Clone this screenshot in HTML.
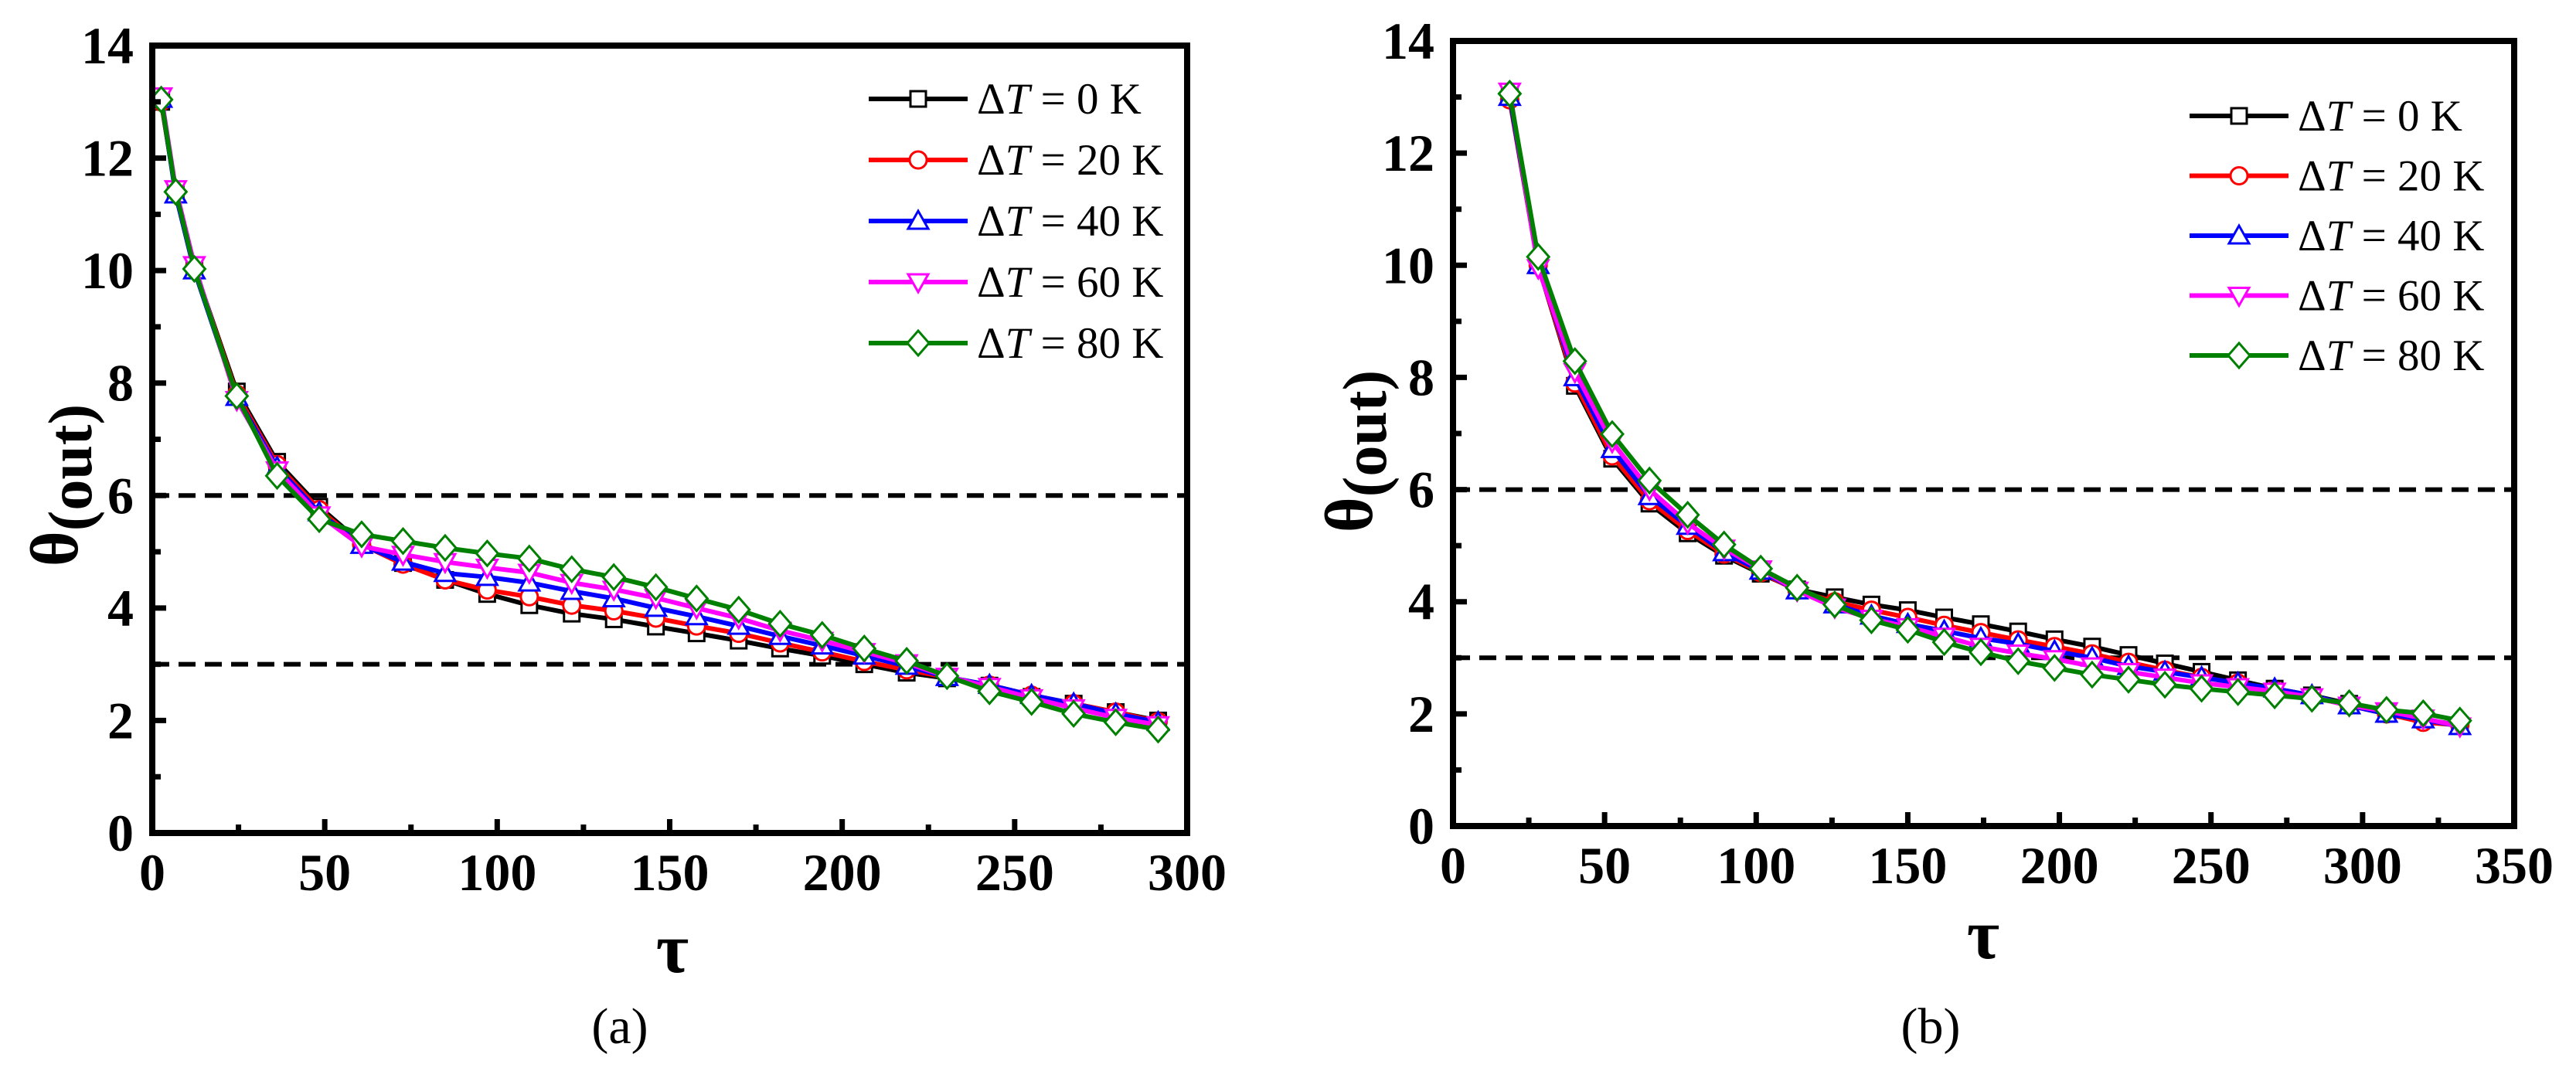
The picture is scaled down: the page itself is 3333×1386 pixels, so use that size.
<!DOCTYPE html>
<html><head><meta charset="utf-8"><style>
body{margin:0;background:#fff}
svg{display:block}
text{font-family:"Liberation Serif",serif}
</style></head><body>
<svg id="fig" width="3333" height="1386" viewBox="0 0 3333 1386" xmlns="http://www.w3.org/2000/svg"></svg>
<script>
const seriesNames = ["0 K","20 K","40 K","60 K","80 K"];
const seriesColors = ["#000000","#ff0000","#0000ff","#ff00ff","#008000"];
const markerTypes = ["square","circle","triUp","triDown","diamond"];
const yTicks = [0,2,4,6,8,10,12,14];
const dashedLevels = [6,3];

const tauA = [2.6,6.8,12.2,24.5,36.2,48.4,60.7,72.7,84.9,97.1,109.3,121.6,133.8,146,157.8,170,182,194.2,206.4,218.7,230.4,242.7,254.9,267.1,279.3,291.6];
const thetaA0  = [13.0,11.4,10.05,7.85,6.6,5.8,5.15,4.8,4.5,4.25,4.05,3.9,3.8,3.67,3.55,3.42,3.28,3.15,3.0,2.85,2.75,2.62,2.42,2.3,2.15,2.0];
const thetaA20 = [13.0,11.4,10.05,7.8,6.55,5.75,5.13,4.78,4.5,4.32,4.2,4.05,3.95,3.82,3.68,3.55,3.38,3.22,3.05,2.9,2.77,2.63,2.45,2.3,2.15,1.98];
const thetaA40 = [13.05,11.35,10.0,7.75,6.5,5.7,5.12,4.82,4.62,4.55,4.45,4.3,4.17,4.0,3.85,3.68,3.5,3.33,3.15,2.97,2.77,2.63,2.45,2.3,2.12,1.97];
const thetaA60 = [13.1,11.45,10.1,7.7,6.45,5.65,5.1,4.95,4.82,4.72,4.63,4.45,4.33,4.18,4.0,3.82,3.6,3.42,3.22,3.02,2.78,2.6,2.4,2.22,2.05,1.92];
const thetaA80 = [13.04,11.4,10.03,7.77,6.35,5.58,5.31,5.19,5.07,4.97,4.88,4.69,4.55,4.37,4.17,3.97,3.72,3.52,3.28,3.06,2.79,2.52,2.33,2.12,1.97,1.84];
const xTicksA = [0,50,100,150,200,250,300];

const tauB = [18.7,28.1,40.2,52.5,64.8,77.4,89.4,101.5,113.5,125.9,138,150,162,174.1,186.4,198.4,210.8,222.8,234.8,246.9,258.9,271,283.3,295.6,307.9,320,332.1];
const thetaB0  = [13.0,10.0,7.85,6.55,5.75,5.22,4.82,4.5,4.22,4.08,3.95,3.85,3.72,3.6,3.47,3.33,3.2,3.05,2.9,2.75,2.6,2.45,2.33,2.18,2.0,1.9,1.8];
const thetaB20 = [12.95,10.0,7.9,6.6,5.8,5.27,4.85,4.52,4.2,4.0,3.85,3.72,3.58,3.45,3.32,3.2,3.07,2.92,2.78,2.65,2.55,2.42,2.3,2.15,2.0,1.85,1.8];
const thetaB40 = [13.0,10.0,8.0,6.72,5.88,5.35,4.88,4.55,4.2,3.95,3.75,3.6,3.48,3.35,3.25,3.12,3.0,2.85,2.75,2.65,2.55,2.45,2.33,2.15,2.0,1.9,1.78];
const thetaB60 = [13.1,9.95,8.1,6.85,6.0,5.4,4.95,4.58,4.2,3.9,3.7,3.55,3.38,3.2,3.08,2.98,2.85,2.75,2.65,2.55,2.48,2.4,2.3,2.15,2.05,1.92,1.78];
const thetaB80 = [13.06,10.15,8.29,6.99,6.16,5.55,5.02,4.59,4.25,3.95,3.67,3.5,3.28,3.1,2.94,2.82,2.7,2.61,2.52,2.45,2.39,2.33,2.27,2.19,2.07,2.01,1.88];
const xTicksB = [0,50,100,150,200,250,300,350];

const NS = "http://www.w3.org/2000/svg";
const svg = document.getElementById("fig");
function mk(tag, attrs, parent){
  const e = document.createElementNS(NS, tag);
  for (const k in attrs) e.setAttribute(k, attrs[k]);
  (parent||svg).appendChild(e);
  return e;
}

function marker(g, type, cx, cy, color){
  let e;
  const s = 13;
  if (type==="square") e = mk("rect",{x:cx-10,y:cy-10,width:20,height:20},g);
  else if (type==="circle") e = mk("circle",{cx:cx,cy:cy,r:11},g);
  else if (type==="triUp") e = mk("polygon",{points:`${cx},${cy-s} ${cx-s},${cy+10} ${cx+s},${cy+10}`},g);
  else if (type==="triDown") e = mk("polygon",{points:`${cx},${cy+s} ${cx-s},${cy-10} ${cx+s},${cy-10}`},g);
  else e = mk("polygon",{points:`${cx},${cy-16} ${cx+14},${cy} ${cx},${cy+16} ${cx-14},${cy}`},g);
  e.setAttribute("fill","#fff");
  e.setAttribute("stroke",color);
  e.setAttribute("stroke-width","3");
  
  
}

function plot(cfg){
  const {id,L,R,T,B,xMax,xTicks,tau,series,legX,legY0,legDy,titleX,titleY,thetaX,thetaY,capX,capLabel} = cfg;
  const xs = v => L + (v/xMax)*(R-L);
  const ys = v => B - (v/14)*(B-T);
  const g = mk("g",{});
  
  

  dashedLevels.forEach(lv=>{
    const d = mk("line",{x1:L,x2:R,y1:ys(lv),y2:ys(lv),stroke:"#000","stroke-width":6,"stroke-dasharray":"22 12"},g);
    
    
  });

  series.forEach((vals,si)=>{
    const sg = mk("g",{},g);
    
    
    const pts = vals.map((v,i)=>xs(tau[i])+","+ys(v)).join(" ");
    const pl = mk("polyline",{points:pts,fill:"none",stroke:seriesColors[si],"stroke-width":6,"stroke-linejoin":"round"},sg);
    
    
    vals.forEach((v,i)=>marker(sg,markerTypes[si],xs(tau[i]),ys(v),seriesColors[si]));
  });

  const fr = mk("rect",{x:L,y:T,width:R-L,height:B-T,fill:"none",stroke:"#000","stroke-width":8},g);
  
  

  const step = xTicks[1]-xTicks[0];
  for (let v=0; v<=xMax+0.01; v+=step/2){
    const major = Math.abs(v/step - Math.round(v/step))<1e-6;
    const t = mk("line",{x1:xs(v),x2:xs(v),y1:B,y2:B-(major?18:11),stroke:"#000","stroke-width":7},g);
    
    
  }
  xTicks.forEach(v=>{
    const tx = mk("text",{x:xs(v),y:B+74,"text-anchor":"middle","font-size":68,"font-weight":"bold"},g);
    tx.textContent = v;
    
    
  });
  for (let v=0; v<=14; v+=1){
    const major = v%2===0;
    const t = mk("line",{x1:L,x2:L+(major?18:11),y1:ys(v),y2:ys(v),stroke:"#000","stroke-width":7},g);
    
    
  }
  yTicks.forEach(v=>{
    const tx = mk("text",{x:L-24,y:ys(v)+23,"text-anchor":"end","font-size":68,"font-weight":"bold"},g);
    tx.textContent = v;
    
    
  });

  const xt = mk("text",{x:titleX,y:titleY,"text-anchor":"middle","font-size":92,"font-weight":"bold"},g);
  xt.textContent = "τ";
  
  
  const yt = mk("text",{x:0,y:0,"text-anchor":"middle","font-size":88,"font-weight":"bold",transform:`translate(${thetaX},${thetaY}) rotate(-90)`},g);
  yt.innerHTML = 'θ<tspan dy="18" font-size="80">(out)</tspan>';
  
  

  const lg = mk("g",{},g);
  
  
  seriesNames.forEach((n,si)=>{
    const y = legY0 + si*legDy;
    const ln = mk("line",{x1:legX,x2:legX+128,y1:y,y2:y,stroke:seriesColors[si],"stroke-width":6},lg);
    
    
    marker(lg,markerTypes[si],legX+64,y,seriesColors[si]);
    const tx = mk("text",{x:legX+140,y:y+19,"font-size":57},lg);
    tx.innerHTML = 'Δ<tspan font-style="italic">T</tspan> = '+n;
    
    
  });

  const cap = mk("text",{x:capX,y:1350,"text-anchor":"middle","font-size":66},g);
  cap.textContent = capLabel;
  
  
}

plot({id:"panel-a",L:197,R:1536,T:59,B:1078,xMax:300,xTicks:xTicksA,tau:tauA,
  series:[thetaA0,thetaA20,thetaA40,thetaA60,thetaA80],
  legX:1124,legY0:128,legDy:79,titleX:870,titleY:1258,thetaX:100,thetaY:628,capX:802,capLabel:"(a)"});
plot({id:"panel-b",L:1880,R:3253,T:53,B:1069,xMax:350,xTicks:xTicksB,tau:tauB,
  series:[thetaB0,thetaB20,thetaB40,thetaB60,thetaB80],
  legX:2833,legY0:150,legDy:77.5,titleX:2566,titleY:1240,thetaX:1775,thetaY:584,capX:2498,capLabel:"(b)"});
</script>
</body></html>
